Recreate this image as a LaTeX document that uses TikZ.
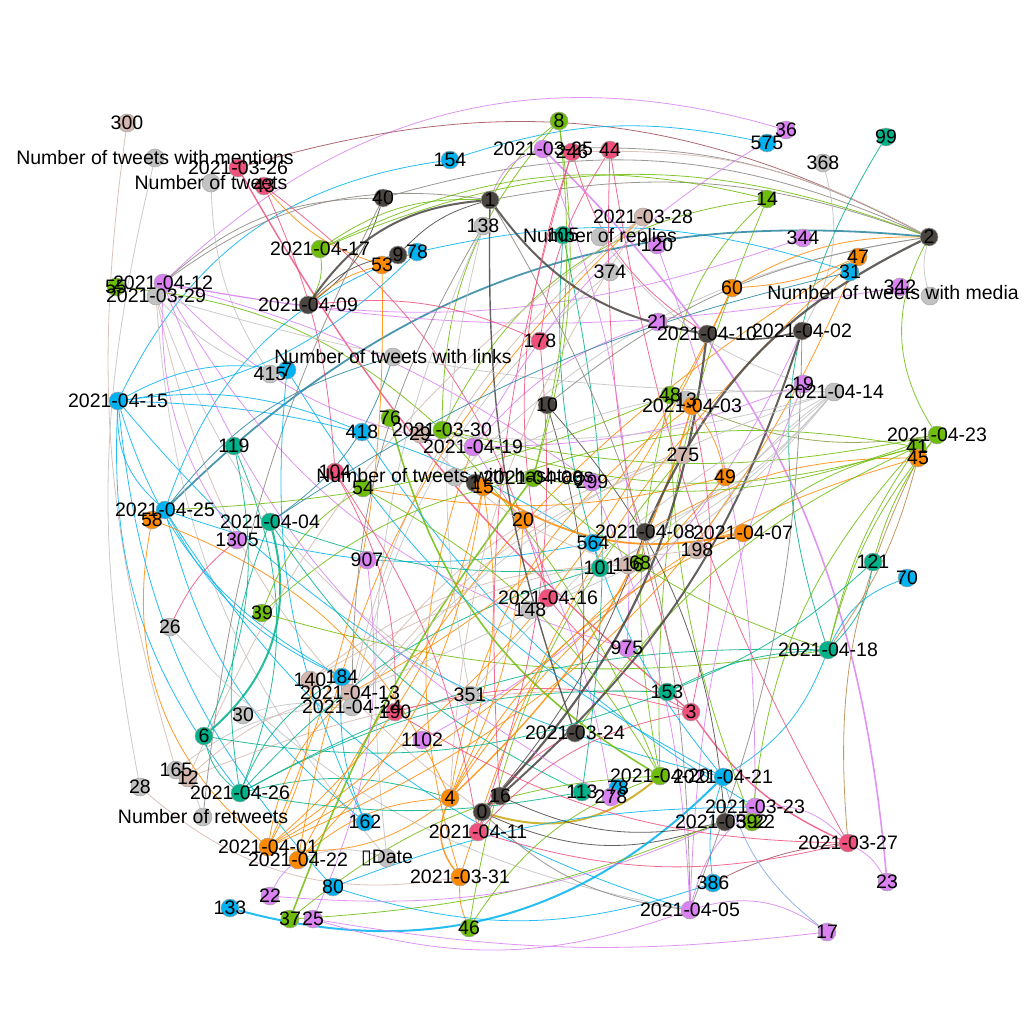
\documentclass[tikz,border=0pt]{standalone}
\usepackage{fontspec}
\setmainfont{Liberation Sans}
\newfontfamily\dvs{DejaVu Sans}
\pgfdeclarelayer{edgelayer}
\pgfdeclarelayer{lbllayer}
\pgfsetlayers{edgelayer,main,lbllayer}
\definecolor{cdk}{HTML}{4A4541}
\definecolor{cor}{HTML}{FF8A00}
\definecolor{cgr}{HTML}{6EBD0A}
\definecolor{ctl}{HTML}{00B28A}
\definecolor{cpk}{HTML}{F0507C}
\definecolor{clg}{HTML}{C2C2C2}
\definecolor{cpu}{HTML}{DA82F2}
\definecolor{ccy}{HTML}{00B3F0}
\definecolor{ctn}{HTML}{D4B8B0}
\definecolor{cgy}{HTML}{8A8580}
\definecolor{cbr}{HTML}{A0505A}
\definecolor{cbrn}{HTML}{B8884A}
\definecolor{cteb}{HTML}{2A85A0}
\definecolor{colv}{HTML}{C8A810}
\definecolor{cblu}{HTML}{7FA8E8}
\definecolor{cogr}{HTML}{8A9A40}
\tikzset{
 dot/.style={circle, minimum size=18pt, inner sep=0pt, draw=black!35, line width=0.5pt},
 lbl/.style={inner sep=0pt, font=\fontsize{19.5}{20}\selectfont, text=black},
 edge/.style={line width=0.8pt, opacity=0.85},
 bL/.style={bend right=#1}, bL/.default=25,
 bR/.style={bend left=#1}, bR/.default=25,
}
\newcommand\gn[5]{\node[dot,fill=#4] (#1) at (#2,#3) {};
 \begin{pgfonlayer}{lbllayer}\node[lbl] at (#1) {#5};\end{pgfonlayer}}
\newcommand\ed[5][]{\draw[edge,draw=#2,#1] (#3) to[#5] (#4);}
\begin{document}
\begin{tikzpicture}[x=1pt,y=-1pt]
\begin{pgfonlayer}{edgelayer}
\fill[white] (0,0) rectangle (1024,1024);
\end{pgfonlayer}
\useasboundingbox (0,0) rectangle (1024,1024);
% nodes
\gn{n300}{127}{123}{ctn}{300}
\gn{nMent}{155}{158}{clg}{Number of tweets with mentions}
\gn{d0326}{238}{168}{cpk}{2021-03-26}
\gn{nTw}{211}{183}{clg}{Number of tweets}
\gn{n43}{264}{186}{cpk}{43}
\gn{n40}{383}{198}{cdk}{40}
\gn{n154}{450}{160}{ccy}{154}
\gn{n8}{559}{121}{cgr}{8}
\gn{d0325}{543}{149}{cpu}{2021-03-25}
\gn{n246}{572}{152}{cpk}{246}
\gn{n44}{610}{150}{cpk}{44}
\gn{n1}{490}{200}{cdk}{1}
\gn{n138}{483}{226}{clg}{138}
\gn{n575}{767}{143}{ccy}{575}
\gn{n36}{786}{130}{cpu}{36}
\gn{n368}{823}{163}{clg}{368}
\gn{n99}{886}{137}{ctl}{99}
\gn{n14}{767}{199}{cgr}{14}
\gn{d0328}{643}{217}{ctn}{2021-03-28}
\gn{n105}{563}{235}{ctl}{105}
\gn{nRep}{600}{237}{clg}{Number of replies}
\gn{n120}{657}{245}{cpu}{120}
\gn{n374}{610}{272}{clg}{374}
\gn{d0417}{320}{249}{cgr}{2021-04-17}
\gn{n53}{382}{265}{cor}{53}
\gn{n9}{398}{255}{cdk}{9}
\gn{n78}{417}{252}{ccy}{78}
\gn{d0409}{308}{305}{cdk}{2021-04-09}
\gn{n55}{116}{287}{cgr}{55}
\gn{d0412}{163}{283}{cpu}{2021-04-12}
\gn{d0329}{156}{296}{clg}{2021-03-29}
\gn{n344}{803}{238}{cpu}{344}
\gn{n2}{929}{237}{cdk}{2}
\gn{n47}{858}{257}{cor}{47}
\gn{n31}{850}{272}{ccy}{31}
\gn{n342}{900}{287}{cpu}{342}
\node[dot,fill=clg] (nMedia) at (930,296) {};
\begin{pgfonlayer}{lbllayer}\node[lbl] at (893,293) {Number of tweets with media};\end{pgfonlayer}
\gn{n60}{732}{288}{cor}{60}
\gn{n21}{658}{322}{cpu}{21}
\gn{d0410}{707}{334}{cdk}{2021-04-10}
\gn{d0402}{802}{331}{cdk}{2021-04-02}
\gn{n178}{540}{341}{cpk}{178}
\gn{nLinks}{393}{357}{clg}{Number of tweets with links}
\gn{n415}{270}{374}{clg}{415}
\gn{n7}{287}{370}{ccy}{7}
\gn{n19}{803}{384}{cpu}{19}
\gn{d0414}{834}{392}{clg}{2021-04-14}
\gn{d0415}{118}{401}{ccy}{2021-04-15}
\gn{n48}{670}{395}{cgr}{48}
\gn{n13}{686}{400}{clg}{13}
\gn{d0403}{692}{406}{cor}{2021-04-03}
\gn{n10}{547}{405}{cdk}{10}
\gn{n76}{390}{418}{cgr}{76}
\gn{n418}{362}{432}{ccy}{418}
\gn{n29}{420}{434}{ctn}{29}
\gn{d0330}{442}{430}{cgr}{2021-03-30}
\gn{d0419}{473}{447}{cpu}{2021-04-19}
\gn{d0423}{937}{435}{cgr}{2021-04-23}
\gn{n41}{917}{447}{cgr}{41}
\gn{n45}{918}{458}{cor}{45}
\gn{n119}{234}{446}{ctl}{119}
\gn{n275}{683}{455}{ctn}{275}
\gn{n104}{335}{472}{cpk}{104}
\gn{nHash}{455}{477}{clg}{Number of tweets with hashtags}
\gn{nDk}{475}{483}{cdk}{1}
\gn{n15}{483}{487}{cor}{15}
\gn{d0406}{533}{478}{cgr}{2021-04-06}
\gn{n299}{592}{482}{cpu}{299}
\gn{n49}{725}{477}{cor}{49}
\gn{n54}{363}{488}{cgr}{54}
\gn{d0425}{165}{510}{ccy}{2021-04-25}
\gn{n58}{152}{520}{cor}{58}
\gn{d0404}{270}{522}{ctl}{2021-04-04}
\gn{n20}{523}{520}{cor}{20}
\gn{d0408}{645}{532}{cdk}{2021-04-08}
\gn{d0407}{743}{533}{cor}{2021-04-07}
\gn{n1305}{237}{540}{cpu}{1305}
\gn{n564}{593}{543}{ccy}{564}
\gn{n198}{697}{550}{ctn}{198}
\gn{n907}{367}{560}{cpu}{907}
\gn{n121}{873}{562}{ctl}{121}
\gn{n116}{628}{565}{ctn}{116}
\gn{n68}{640}{563}{cgr}{68}
\gn{n101}{600}{568}{ctl}{101}
\gn{n70}{907}{578}{ccy}{70}
\gn{d0416}{548}{598}{cpk}{2021-04-16}
\gn{n148}{530}{610}{clg}{148}
\gn{n39}{262}{613}{cgr}{39}
\gn{n26}{170}{627}{clg}{26}
\gn{n975}{627}{648}{cpu}{975}
\gn{d0418}{828}{650}{ctl}{2021-04-18}
\gn{n140}{310}{680}{ctn}{140}
\gn{n184}{342}{677}{ccy}{184}
\gn{d0413}{350}{693}{ctn}{2021-04-13}
\gn{n153}{667}{692}{ctl}{153}
\gn{n351}{470}{695}{clg}{351}
\gn{d0424}{352}{707}{clg}{2021-04-24}
\gn{n190}{395}{712}{cpk}{190}
\gn{n3}{691}{712}{cpk}{3}
\gn{n30}{243}{715}{clg}{30}
\gn{d0324}{575}{733}{cdk}{2021-03-24}
\gn{n6}{204}{736}{ctl}{6}
\gn{n1102}{422}{740}{cpu}{1102}
\gn{n165}{176}{770}{clg}{165}
\gn{n12}{188}{778}{ctn}{12}
\gn{d0420}{660}{776}{cgr}{2021-04-20}
\gn{d0421}{723}{777}{ccy}{2021-04-21}
\gn{n28}{140}{787}{clg}{28}
\gn{d0426}{240}{793}{ctl}{2021-04-26}
\gn{n113}{582}{792}{ctl}{113}
\gn{n4}{450}{798}{cor}{4}
\gn{n16}{500}{796}{cdk}{16}
\gn{n78b}{618}{788}{ccy}{78}
\gn{n278}{611}{797}{cpu}{278}
\gn{d0323}{755}{807}{cpu}{2021-03-23}
\gn{n0}{482}{812}{cdk}{0}
\gn{nRT}{203}{817}{clg}{Number of retweets}
\gn{n162}{365}{822}{ccy}{162}
\gn{d0322}{725}{822}{cdk}{2021-03-22}
\gn{n592}{752}{822}{cgr}{592}
\gn{d0411}{478}{832}{cpk}{2021-04-11}
\gn{d0327}{848}{843}{cpk}{2021-03-27}
\gn{d0401}{268}{847}{cor}{2021-04-01}
\gn{nDate}{387}{858}{clg}{{\dvs ▯}Date}
\gn{d0422}{298}{860}{cor}{2021-04-22}
\gn{d0331}{460}{877}{cor}{2021-03-31}
\gn{n23}{887}{882}{cpu}{23}
\gn{n386}{713}{883}{ccy}{386}
\gn{n80}{333}{887}{ccy}{80}
\gn{n22}{270}{896}{cpu}{22}
\gn{n133}{230}{908}{ccy}{133}
\gn{d0405}{690}{910}{cpu}{2021-04-05}
\gn{n37}{290}{919}{cgr}{37}
\gn{n25}{313}{919}{cpu}{25}
\gn{n46}{469}{928}{cgr}{46}
\gn{n17}{827}{932}{cpu}{17}
% edges
\begin{pgfonlayer}{edgelayer}
\ed{cpu}{d0412}{n36}{bR=30}
\ed{cbr}{d0326}{n2}{bR=22}
\ed{ccy}{d0415}{n154}{bR=28}
\ed{ccy}{n154}{n575}{bR=15}
\ed{cgy}{n40}{n2}{bR=20}
\ed{cgy}{n1}{n2}{bR=15}
\ed{cgr}{d0330}{n14}{bR=28}
\ed{cgr}{n8}{n1}{bL=10}
\ed{cgr}{n8}{d0330}{bL=20}
\ed{cgy}{d0325}{n2}{bR=15}
\ed{ctn}{n246}{n2}{bR=15}
\ed{cpk}{n44}{n178}{bL=12}
\ed{cpu}{d0325}{n1}{bL=25}
\ed{cpk}{n246}{d0410}{bL=20}
\ed{cgr}{n14}{d0420}{bL=12}
\ed{cgr}{n14}{n48}{bL=20}
\ed{ctl}{n99}{d0418}{bL=25}
\ed{clg}{n368}{d0402}{bR=22}
\ed{ccy}{n78}{n31}{bR=15}
\ed[line width=1.8pt]{cteb}{n2}{d0425}{bL=25}
\ed{cgy}{d0412}{n1}{bR=22}
\ed{cgy}{d0412}{n40}{bR=20}
\ed{cpu}{d0412}{d0419}{bL=18}
\ed{cpu}{d0412}{n975}{bL=22}
\ed{cpu}{n342}{d0412}{bR=10}
\ed{cpu}{n344}{d0412}{bR=15}
\ed{clg}{d0329}{nDate}{bL=18}
\ed{clg}{d0329}{n351}{bL=18}
\ed{ctn}{d0329}{n0}{bL=20}
\ed{cgr}{n55}{d0330}{bR=18}
\ed{ctn}{n300}{n165}{bL=12}
\ed{clg}{nMent}{n28}{bL=12}
\ed{clg}{nTw}{n415}{bL=15}
\ed{cpk}{n43}{n104}{bR=10}
\ed[line width=1.4pt]{cpk}{d0326}{n3}{bL=10}
\ed{cpk}{n43}{d0416}{bR=18}
\ed{cor}{n43}{n53}{bL=15}
\ed{ccy}{d0415}{d0425}{bL=25}
\ed{ccy}{d0415}{n7}{bR=18}
\ed{ccy}{d0415}{d0421}{bL=18}
\ed{ccy}{d0415}{n418}{bR=15}
\ed{ccy}{d0415}{n80}{bL=18}
\ed{ccy}{d0415}{n564}{bR=15}
\ed{ccy}{d0415}{n184}{bL=22}
\ed{ccy}{d0415}{d0426}{bL=20}
\ed{ccy}{d0425}{n78}{bR=25}
\ed{ccy}{d0425}{n564}{bL=15}
\ed{ccy}{d0425}{n162}{bL=18}
\ed{ccy}{d0425}{n184}{bL=18}
\ed{ccy}{d0425}{d0405}{bL=20}
\ed{ctl}{n119}{d0426}{bR=22}
\ed{ctl}{n119}{n6}{bR=18}
\ed[line width=2pt]{ctl}{d0404}{n6}{bR=32}
\ed{cteb}{d0404}{nLinks}{bL=18}
\ed{ctl}{d0404}{n113}{bL=15}
\ed{cor}{n58}{d0401}{bL=30}
\ed{cpk}{n1305}{n26}{bL=12}
\ed{cgr}{n39}{d0418}{bL=12}
\ed{cgr}{n39}{n54}{bR=18}
\ed{clg}{n26}{d0405}{bL=18}
\ed{ctn}{d0413}{d0328}{bR=18}
\ed{ctn}{d0413}{n275}{bR=18}
\ed{ctn}{n140}{n116}{bR=18}
\ed{ctn}{n12}{d0413}{bR=15}
\ed{ctn}{n12}{n153}{bR=12}
\ed{ctn}{n12}{d0328}{bR=15}
\ed{ccy}{n184}{n162}{bL=12}
\ed{cpk}{n190}{n3}{bR=15}
\ed{clg}{n30}{d0424}{bR=12}
\ed{ctl}{n6}{d0426}{bL=18}
\ed{cpu}{n1102}{d0402}{bL=18}
\ed{clg}{n165}{d0424}{bR=18}
\ed{ctn}{n28}{d0331}{bL=25}
\ed{ctl}{d0426}{d0418}{bR=15}
\ed{ctl}{d0426}{n153}{bR=15}
\ed{ctl}{d0426}{n4}{bR=15}
\ed{ctl}{d0426}{n184}{bR=18}
\ed{ctl}{d0426}{n101}{bR=15}
\ed{clg}{nRT}{n165}{bL=12}
\ed[line width=1.4pt]{cor}{n4}{d0331}{bL=30}
\ed{cor}{n4}{d0401}{bR=22}
\ed{cor}{n4}{d0422}{bL=18}
\ed{cor}{n4}{n15}{bL=15}
\ed{cor}{n4}{d0403}{bR=22}
\ed{cor}{n4}{n20}{bL=12}
\ed{cor}{n4}{n58}{bL=22}
\ed{cor}{n4}{d0407}{bR=18}
\ed[line width=2pt]{colv}{n0}{d0420}{bL=28}
\ed{cdk}{n0}{d0322}{bL=22}
\ed{cgy}{n0}{d0405}{bL=18}
\ed{cpk}{d0411}{n16}{bR=15}
\ed{cpk}{d0411}{d0324}{bR=18}
\ed{cor}{d0401}{d0413}{bR=18}
\ed{cor}{d0401}{n140}{bL=15}
\ed{cor}{d0401}{n53}{bL=12}
\ed{cor}{d0401}{n60}{bL=15}
\ed{cor}{d0401}{n49}{bL=10}
\ed{cpu}{d0422}{n22}{bL=12}
\ed{clg}{d0422}{nDate}{bR=18}
\ed{cor}{d0422}{d0328}{bR=18}
\ed{cor}{d0422}{n47}{bR=15}
\ed{clg}{nDate}{n138}{bR=15}
\ed{cor}{d0331}{d0419}{bR=18}
\ed{cor}{d0331}{n46}{bL=12}
\ed{ccy}{n80}{n386}{bL=18}
\ed{ccy}{n80}{d0323}{bR=10}
\ed[line width=2pt]{ccy}{n133}{d0421}{bL=30}
\ed[line width=1.6pt]{cgr}{n37}{d0406}{bR=8}
\ed{cgr}{n37}{d0420}{bR=18}
\ed{cgr}{n37}{d0323}{bL=10}
\ed{cpu}{n25}{d0405}{bL=18}
\ed{cpu}{n25}{n17}{bL=8}
\ed{cgr}{n46}{d0420}{bR=18}
\ed{cgr}{n46}{n275}{bR=15}
\ed{cdk}{d0324}{n10}{bL=12}
\ed[line width=1.4pt]{cdk}{n1}{d0324}{bL=10}
\ed{ctl}{n153}{d0418}{bR=12}
\ed[line width=1.4pt]{cpk}{n3}{d0327}{bL=15}
\ed{cpk}{n3}{d0403}{bL=12}
\ed{cpk}{n3}{n44}{bR=10}
\ed{ctl}{n113}{n105}{bL=10}
\ed{cpu}{n278}{d0419}{bL=12}
\ed{cgr}{d0420}{n48}{bR=12}
\ed{cgr}{d0420}{d0330}{bL=10}
\ed{ccy}{d0421}{d0418}{bL=18}
\ed{ccy}{d0421}{n564}{bR=10}
\ed{cpu}{d0323}{d0327}{bR=25}
\ed{cpu}{d0323}{n120}{bL=10}
\ed{cgr}{n592}{n41}{bR=18}
\ed{cgr}{n592}{n48}{bR=10}
\ed{cdk}{d0322}{n10}{bL=18}
\ed{cbr}{d0327}{n386}{bL=10}
\ed{cbrn}{d0327}{n45}{bR=15}
\ed{cpk}{d0327}{n44}{bR=10}
\ed{ccy}{n386}{d0421}{bR=12}
\ed{cpu}{d0405}{n17}{bR=25}
\ed{cpu}{d0405}{d0323}{bR=18}
\ed{cgy}{d0405}{n1}{bL=15}
\ed{cpu}{d0405}{n299}{bL=10}
\ed[line width=1.6pt]{cpu}{d0325}{n23}{bR=20}
\ed{cpu}{n23}{d0327}{bL=15}
\ed{cblu}{n17}{d0421}{bR=18}
\ed{ctl}{d0418}{n121}{bL=18}
\ed{ccy}{d0418}{n70}{bR=22}
\ed{cgr}{d0418}{d0423}{bR=12}
\ed{cgr}{d0418}{n41}{bR=10}
\ed{cbrn}{d0418}{n45}{bL=10}
\ed{cgr}{n121}{d0423}{bR=10}
\ed{ctl}{n121}{n153}{bR=10}
\ed{cgr}{d0423}{n2}{bR=30}
\ed{cogr}{d0423}{d0403}{bR=15}
\ed{cor}{n45}{d0408}{bL=15}
\ed{cor}{n45}{n4}{bL=20}
\ed{cgr}{n41}{n15}{bL=15}
\ed{cgr}{n41}{d0407}{bL=12}
\ed{cgr}{n41}{d0324}{bL=15}
\ed{cor}{n49}{d0403}{bL=12}
\ed{cor}{n49}{n54}{bR=12}
\ed[line width=1.8pt]{cor}{n15}{d0407}{bL=22}
\ed{cor}{d0407}{n198}{bL=15}
\ed[line width=1.4pt]{cor}{d0403}{n4}{bR=15}
\ed{clg}{n198}{d0414}{bR=12}
\ed{ctl}{n101}{d0404}{bR=12}
\ed{cpu}{n975}{d0325}{bL=12}
\ed{cor}{n20}{n15}{bL=10}
\ed{clg}{nHash}{d0414}{bR=15}
\ed{clg}{nHash}{n2}{bR=18}
\ed{cpu}{n299}{d0412}{bL=10}
\ed{cgr}{d0330}{d0423}{bL=12}
\ed{cgr}{d0330}{n41}{bL=18}
\ed[line width=1.6pt]{cgr}{n76}{d0420}{bL=22}
\ed{ccy}{n418}{d0323}{bL=12}
\ed{cpk}{n104}{n190}{bR=15}
\ed{cpk}{n104}{d0411}{bR=12}
\ed{cpk}{n178}{d0409}{bL=15}
\ed{cteb}{nLinks}{d0425}{bL=18}
\ed{clg}{n415}{d0329}{bR=12}
\ed{cdk}{d0409}{n9}{bR=18}
\ed{cdk}{d0409}{n40}{bL=18}
\ed{cgr}{d0409}{d0417}{bL=18}
\ed{cgr}{d0417}{n2}{bR=22}
\ed{cgr}{d0417}{n1}{bR=18}
\ed{cgr}{d0417}{n14}{bR=20}
\ed{cor}{n53}{d0409}{bL=12}
\ed{cdk}{n9}{n1}{bR=15}
\ed{ccy}{n78}{d0415}{bR=18}
\ed{cgy}{n40}{nRT}{bL=10}
\ed{ctl}{n105}{n101}{bL=10}
\ed{clg}{nRep}{d0414}{bL=18}
\ed{clg}{n374}{d0424}{bL=18}
\ed{cor}{n47}{d0401}{bR=22}
\ed{cor}{n47}{n60}{bR=10}
\ed{cor}{n47}{d0331}{bL=15}
\ed{clg}{nMedia}{n2}{bR=15}
\ed{cor}{n60}{n2}{bR=15}
\ed{cor}{n60}{d0413}{bR=18}
\ed[line width=1.6pt]{cdk}{d0410}{d0402}{bL=12}
\ed[line width=2pt]{cdk}{n1}{d0410}{bL=22}
\ed[line width=2pt]{cdk}{n1}{d0409}{bL=25}
\ed[line width=2.2pt]{cdk}{n2}{d0408}{bL=20}
\ed[line width=2.2pt]{cdk}{n0}{d0410}{bL=18}
\ed[line width=2pt]{cdk}{n16}{d0402}{bL=15}
\ed{cgy}{d0402}{d0405}{bR=10}
\ed{cpu}{n19}{d0419}{bR=10}
\ed{cpu}{n19}{d0405}{bL=10}
\ed{cpu}{n21}{d0419}{bL=15}
\ed{cgr}{n48}{d0425}{bR=10}
\ed{clg}{d0414}{n148}{bR=15}
\ed{clg}{d0414}{n101}{bR=12}
\ed{clg}{d0414}{d0408}{bR=12}
\ed{clg}{d0414}{n29}{bR=10}
\ed{clg}{d0414}{d0329}{bR=8}
\ed{clg}{d0414}{d0413}{bR=10}
\ed{clg}{n138}{n351}{bL=12}
\ed{cgy}{n138}{d0424}{bL=15}
\ed{clg}{n351}{d0414}{bR=10}
\ed{cpu}{n22}{d0323}{bL=15}
\ed{ctl}{n153}{n6}{bR=15}
\ed{ctl}{n113}{d0426}{bR=10}
\ed{cpk}{d0411}{n3}{bR=18}
\ed{cpk}{d0411}{d0327}{bL=15}
\ed{cdk}{n16}{d0322}{bL=18}
\ed{cgr}{d0406}{d0418}{bL=12}
\ed{cgr}{d0406}{n8}{bL=12}
\ed{cgr}{d0406}{d0423}{bL=15}
\ed{cgr}{n8}{d0406}{bR=10}
\ed{cgr}{n54}{d0420}{bR=15}
\ed{cgr}{n39}{d0406}{bR=15}
\ed{cpk}{n178}{d0411}{bR=12}
\ed{cpk}{d0416}{n3}{bL=12}
\ed{cpk}{d0416}{n246}{bR=15}
\ed{cpk}{n246}{n16}{bL=10}
\ed{cpk}{n190}{d0327}{bL=15}
\ed{cor}{n15}{d0401}{bR=18}
\ed{cor}{n15}{d0422}{bR=18}
\ed{clg}{d0424}{d0414}{bR=15}
\ed{ctn}{d0328}{n4}{bL=15}
\ed{ctn}{n116}{n29}{bR=15}
\ed{ctn}{n198}{n140}{bL=12}
\ed{ctn}{n275}{d0424}{bL=15}
\ed{ctl}{d0426}{d0404}{bR=15}
\ed{cpu}{n1305}{d0412}{bR=18}
\ed{cpu}{n907}{n25}{bR=15}
\ed{cpu}{d0412}{n278}{bL=20}
\ed{cpu}{n36}{d0419}{bL=15}
\ed{ccy}{n7}{n162}{bL=15}
\ed{ccy}{n7}{d0421}{bL=15}
\ed{cteb}{n31}{d0404}{bL=10}
\ed{cgy}{n10}{n2}{bR=15}
\ed{cdk}{d0408}{n0}{bR=10}
\end{pgfonlayer}
\end{tikzpicture}
\end{document}
